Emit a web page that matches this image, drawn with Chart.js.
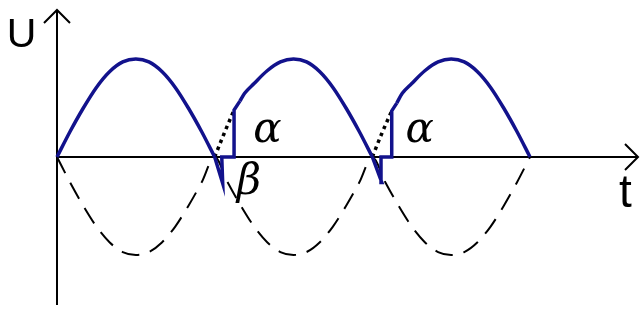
<!DOCTYPE html>
<html>
<head>
<meta charset="utf-8">
<script src="https://cdn.jsdelivr.net/npm/chart.js@4/dist/chart.umd.min.js"></script>
<style>
  html, body { margin: 0; padding: 0; background: #fff; }
  #wrap { width: 644px; height: 312px; }
</style>
</head>
<body>
<div id="wrap"><canvas id="myChart"></canvas></div>
<script>
// time in half periods, voltage normalised to the peak
// one half wave, read at 1/12 steps
const waveT = [0, 0.083, 0.167, 0.25, 0.333, 0.417, 0.5, 0.583, 0.667, 0.75, 0.833, 0.917, 1.0]
const waveU = [0, 0.26, 0.5, 0.71, 0.87, 0.97, 1.0, 0.97, 0.87, 0.71, 0.5, 0.26, 0]

// blue pieces after each switch-on point
const arc2T = [1.16, 1.19, 1.25, 1.333, 1.417, 1.5, 1.583, 1.667, 1.75, 1.833, 1.917, 2.0]
const arc2U = [0.57, 0.65, 0.75, 0.88, 0.97, 1.0, 0.97, 0.87, 0.71, 0.5, 0.26, 0]
const arc3T = [2.155, 2.19, 2.25, 2.333, 2.417, 2.5, 2.583, 2.667, 2.75, 2.833, 2.917, 3.0]
const arc3U = [0.55, 0.65, 0.75, 0.88, 0.97, 1.0, 0.97, 0.87, 0.71, 0.5, 0.26, 0]

// the notches (beta dip, zero gap, jump alpha)
const notch1T = [1.0, 1.051, 1.045, 1.123, 1.123, 1.16]
const notch1U = [0, -0.27, 0, 0, 0.48, 0.57]
const notch2T = [2.0, 2.06, 2.055, 2.123, 2.123, 2.155]
const notch2U = [0, -0.26, 0, 0, 0.47, 0.55]

// dotted: the part of the sine that is cut off
const cut1T = [1.0, 1.06, 1.123]
const cut1U = [0, 0.24, 0.48]
const cut2T = [2.0, 2.06, 2.123]
const cut2U = [0, 0.24, 0.47]

// axes
const axisT = [0, 3.685]
const axisU = [-1.51, 1.5]

const BLUE = '#12128c'

function pts(ts, us) {
  return ts.map(function (t, i) { return { x: t, y: us[i] } })
}

// lower dashed half waves, three of them
const lower = []
for (let k = 0; k < 3; k++) {
  for (let i = 0; i < waveT.length; i++) {
    if (k > 0 && i == 0) continue
    lower.push({ x: waveT[i] + k, y: -waveU[i] })
  }
}

function curve(data, extra) {
  return Object.assign({
    data: data, showLine: true, pointRadius: 0, fill: false,
    borderColor: BLUE, borderWidth: 3.5, cubicInterpolationMode: 'monotone'
  }, extra || {})
}

// arrows and letters
const extras = {
  id: 'extras',
  afterDatasetsDraw(chart) {
    const c = chart.ctx
    const sx = chart.scales.x, sy = chart.scales.y
    const x0 = sx.getPixelForValue(0), y0 = sy.getPixelForValue(0)
    const xt = sx.getPixelForValue(axisT[1]), yt = sy.getPixelForValue(axisU[1])
    c.save()
    c.strokeStyle = '#000'
    c.lineWidth = 2
    c.beginPath()
    c.moveTo(xt - 13, y0 - 13); c.lineTo(xt, y0); c.lineTo(xt - 13, y0 + 13)
    c.moveTo(x0 - 13, yt + 13); c.lineTo(x0, yt); c.lineTo(x0 + 13, yt + 13)
    c.stroke()
    c.fillStyle = '#000'
    c.textAlign = 'left'
    c.textBaseline = 'alphabetic'
    c.font = '41px "Liberation Sans", Arial, sans-serif'
    c.fillText('U', sx.getPixelForValue(-0.318), sy.getPixelForValue(1.122))
    c.font = '46px "Liberation Sans", Arial, sans-serif'
    c.fillText('t', sx.getPixelForValue(3.565), sy.getPixelForValue(-0.51))
    c.font = 'italic 42px "DejaVu Serif", serif'
    c.fillText('α', sx.getPixelForValue(1.245), sy.getPixelForValue(0.153))
    c.fillText('α', sx.getPixelForValue(2.21), sy.getPixelForValue(0.153))
    c.fillText('β', sx.getPixelForValue(1.14), sy.getPixelForValue(-0.378))
    c.restore()
  }
}

const ctx = document.getElementById('myChart').getContext('2d')
const chart = new Chart(ctx, {
  type: 'scatter',
  data: {
    datasets: [
      curve(pts(waveT, waveU)),
      curve(pts(arc2T, arc2U)),
      curve(pts(arc3T, arc3U)),
      curve(pts(notch1T, notch1U), { cubicInterpolationMode: 'default', tension: 0 }),
      curve(pts(notch2T, notch2U), { cubicInterpolationMode: 'default', tension: 0 }),
      curve(pts(cut1T, cut1U), { borderColor: '#000', borderWidth: 3.5, borderDash: [3.5, 4] }),
      curve(pts(cut2T, cut2U), { borderColor: '#000', borderWidth: 3.5, borderDash: [3.5, 4] }),
      curve(lower, { borderColor: '#000', borderWidth: 2, borderDash: [18, 11] }),
      curve([{ x: axisT[0], y: 0 }, { x: axisT[1], y: 0 }], { borderColor: '#000', borderWidth: 2 }),
      curve([{ x: 0, y: axisU[0] }, { x: 0, y: axisU[1] }], { borderColor: '#000', borderWidth: 2 })
    ]
  },
  options: {
    responsive: true,
    maintainAspectRatio: false,
    animation: false,
    layout: { padding: 0 },
    plugins: { legend: { display: false }, tooltip: { enabled: false } },
    scales: {
      x: { type: 'linear', display: false, min: -0.3615, max: 3.723 },
      y: { type: 'linear', display: false, min: -1.582, max: 1.602 }
    }
  },
  plugins: [extras]
})
</script>
</body>
</html>
